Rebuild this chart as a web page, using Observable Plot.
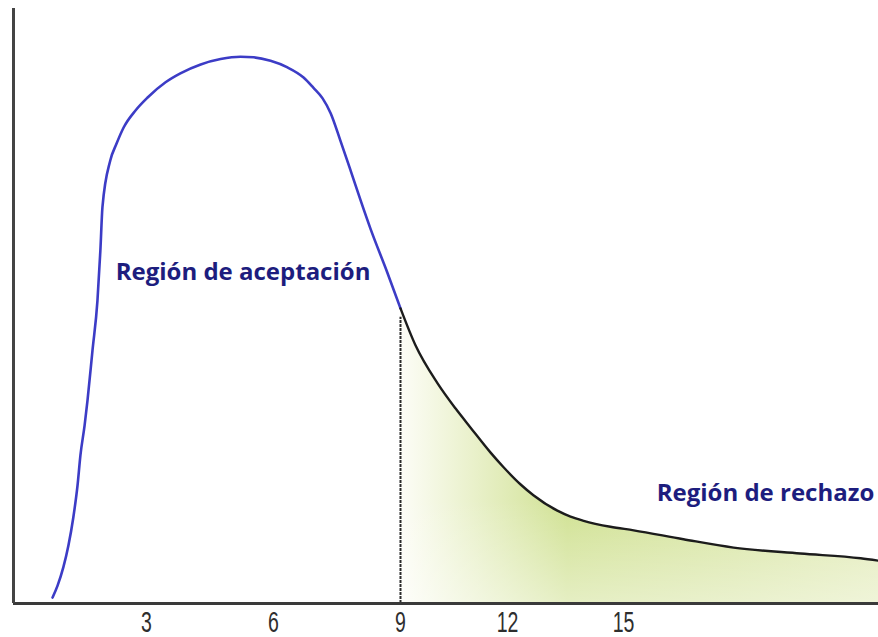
<!DOCTYPE html>
<html><head><meta charset="utf-8">
<script src="https://cdn.jsdelivr.net/npm/d3@7"></script>
<script src="https://cdn.jsdelivr.net/npm/@observablehq/plot@0.6"></script>
<style>body{margin:0;background:#fff}svg{display:block}</style>
</head><body><div id="chart"></div>
<script>
// Acceptance region curve (x in statistic units, y in relative density units)
const acceptX = [0.74,0.86,1.00,1.12,1.24,1.34,1.41,1.51,1.58,1.70,1.82,1.89,1.94,2.13,2.28,2.45,2.74,3.02,3.45,3.80,4.28,4.75,5.22,5.53,5.93,6.33,6.71,6.94,7.16,7.35,7.58,7.82,8.06,8.29,8.69,9.00];
const acceptY = [1.0,3.0,6.1,9.7,14.5,19.8,24.9,29.9,34.1,42.5,50.9,59.3,66.6,74.5,77.3,80.0,82.9,85.0,87.6,89.1,90.6,91.5,91.9,91.8,91.2,90.1,88.4,86.7,84.9,82.4,77.8,72.8,67.7,63.0,55.6,49.6];
// Rejection region curve
const rejectX = [9.00,9.42,10.04,10.54,10.96,11.52,11.89,12.34,12.67,13.29,13.63,13.97,14.66,15.24,16.41,17.59,19.16,20.58,21.0];
const rejectY = [49.6,43.4,37.0,32.8,29.6,25.4,22.9,20.0,18.2,15.6,14.6,13.9,12.9,12.3,10.8,9.4,8.4,7.6,7.2];
const tickValues = [3,6,9,12,15];
const criticalValue = 9;
const labelText = ["Región de aceptación","Región de rechazo"];
const labelX = [5.28,18.34];
const labelY = [55.6,18.5];

const xDomain = [-0.2,3,6,9,12,15,21];
const xRange = [13,146,273,400,507,623,878];

const accept = acceptX.map((x,i)=>({x, y: acceptY[i]}));
const reject = rejectX.map((x,i)=>({x, y: rejectY[i]}));
const labels = labelText.map((t,i)=>({t, x: labelX[i], y: labelY[i]}));

const chart = Plot.plot({
  width: 878, height: 637,
  marginLeft: 13, marginRight: 0, marginTop: 8, marginBottom: 34,
  style: {background: "#fff", overflow: "visible"},
  x: {type: "linear", domain: xDomain, range: xRange},
  y: {domain: [0,100], range: [603,8], axis: null},
  marks: [
    Plot.areaY(reject, {x: "x", y: "y", fill: "url(#tailGrad)", curve: "monotone-x"}),
    Plot.areaY(reject, {x: "x", y: "y", fill: "url(#tailFade)", curve: "monotone-x"}),
    Plot.ruleX([criticalValue], {y1: 0, y2: rejectY[0] - 1.5, stroke: "#2b2b2b", strokeWidth: 2, strokeDasharray: "3,1"}),
    Plot.line(accept, {x: "x", y: "y", stroke: "#3c3cc6", strokeWidth: 2.6, curve: "monotone-x"}),
    Plot.line(reject, {x: "x", y: "y", stroke: "#1c1c1c", strokeWidth: 2.4, curve: "monotone-x"}),
    Plot.ruleY([0], {stroke: "#3a3a3a", strokeWidth: 3}),
    Plot.ruleX([xDomain[0]], {stroke: "#444", strokeWidth: 3}),
    Plot.axisX({ticks: tickValues, tickSize: 0, tickPadding: 7, fontSize: 30, color: "#2e2e2e",
      fontFamily: "'Liberation Sans', Arial, sans-serif", label: null}),
    Plot.text(labels, {x: "x", y: "y", text: "t", fontSize: 24, fontWeight: "bold", fill: "#1d1d7e",
      fontFamily: "'Open Sans', sans-serif"})
  ]
});

d3.select(chart).insert("defs", ":first-child").html(`
  <linearGradient id="tailGrad" gradientUnits="userSpaceOnUse" x1="400" y1="0" x2="878" y2="0">
    <stop offset="0" stop-color="#fdfdf7"/>
    <stop offset="0.35" stop-color="#d0e192"/>
    <stop offset="0.7" stop-color="#d9e6a6"/>
    <stop offset="1" stop-color="#e3ecba"/>
  </linearGradient>
  <linearGradient id="tailFade" gradientUnits="userSpaceOnUse" x1="0" y1="500" x2="0" y2="603">
    <stop offset="0" stop-color="#ffffff" stop-opacity="0"/>
    <stop offset="1" stop-color="#ffffff" stop-opacity="0.45"/>
  </linearGradient>`);

// narrow the tick digits as in the reference
d3.select(chart).selectAll('g[aria-label="x-axis tick label"] text')
  .attr("transform", function() { return this.getAttribute("transform") + " scale(0.65,1)"; });

document.getElementById("chart").appendChild(chart);
</script>
</body></html>
